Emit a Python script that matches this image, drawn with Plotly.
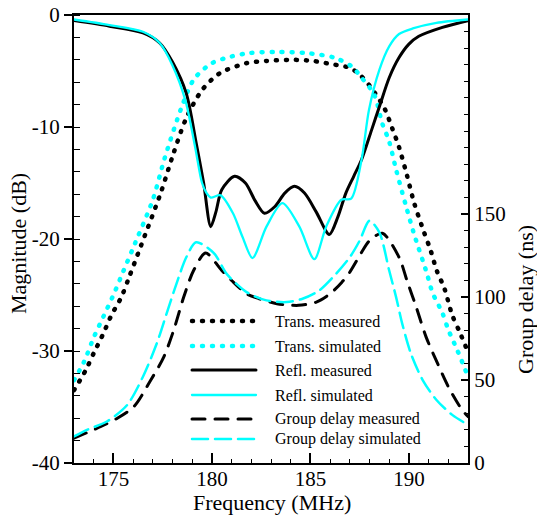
import plotly.graph_objects as go

# ---------------- data ----------------
freq_trans_meas = [173.0, 173.6, 174.0, 174.5, 174.9, 175.4, 175.8, 176.4, 177.4, 178.06, 178.7, 179.5,
                   180.4, 181.76, 182.77, 184.1, 185.1, 186.1, 186.97, 187.43, 188.0, 188.75, 189.15,
                   189.5, 189.9, 190.27, 190.77, 191.1, 191.43, 191.8, 192.2, 192.6, 193.0]
trans_meas = [-33.5, -31.7, -30.2, -28.4, -26.8, -25.2, -23.4, -20.6, -15.9, -12.3, -9.2, -6.7,
              -5.2, -4.3, -4.1, -4.0, -4.1, -4.4, -4.7, -5.2, -6.3, -8.3, -10.1,
              -11.8, -14.3, -16.8, -19.4, -21.0, -22.9, -24.4, -26.8, -28.4, -30.1]

freq_trans_sim = [173.0, 173.5, 174.0, 174.5, 175.0, 175.5, 176.0, 177.0, 177.6, 178.47, 179.1, 180.0,
                  181.0, 181.9, 183.3, 184.8, 186.2, 187.1, 187.6, 188.24, 188.65, 189.0, 189.35,
                  189.86, 190.27, 190.9, 191.2, 191.7, 192.0, 192.45, 192.8, 193.0]
trans_sim = [-32.6, -31.0, -28.8, -26.9, -25.0, -22.9, -20.8, -16.5, -12.8, -8.2, -5.7, -4.3,
             -3.7, -3.4, -3.3, -3.4, -3.8, -4.6, -5.6, -7.1, -9.7, -11.3, -13.8,
             -17.1, -19.6, -23.0, -24.8, -26.6, -28.1, -29.9, -31.4, -32.3]

freq_refl_meas = [173.0, 174.8, 176.5, 177.35, 178.0, 178.7, 179.2, 179.58, 179.94, 180.2, 180.5, 181.15,
                  181.7, 182.2, 182.67, 183.2, 183.7, 184.19, 184.7, 185.3, 185.96, 186.4, 186.8,
                  187.2, 187.6, 188.1, 188.5, 189.0, 189.5, 190.0, 190.5, 191.7, 193.0]
refl_meas = [-0.5, -1.0, -1.6, -2.5, -4.2, -7.0, -11.4, -15.0, -18.9, -17.6, -15.6, -14.4,
             -15.0, -16.6, -17.7, -17.1, -15.9, -15.3, -15.9, -17.6, -19.6, -18.0, -15.9,
             -14.4, -12.9, -10.3, -8.2, -5.6, -3.8, -2.6, -1.9, -1.1, -0.5]

freq_refl_sim = [173.0, 174.8, 176.5, 177.35, 178.0, 178.65, 179.15, 179.5, 179.73, 179.94, 180.44, 181.07,
                 181.55, 182.06, 182.77, 183.58, 184.44, 185.2, 185.8, 186.57, 187.07, 187.6, 187.97,
                 188.5, 189.0, 189.5, 190.2, 191.4, 193.0]
refl_sim = [-0.4, -0.9, -1.5, -2.5, -4.5, -7.6, -11.8, -15.0, -15.9, -16.3, -16.1, -17.7,
            -19.8, -21.7, -18.9, -16.8, -18.9, -21.8, -18.9, -16.5, -16.4, -12.9, -8.5,
            -4.9, -2.8, -1.7, -1.2, -0.7, -0.4]

freq_gd_meas = [173.0, 174.37, 175.2, 176.04, 176.9, 177.56, 178.06, 178.57, 179.07, 179.68, 180.5, 181.0,
                181.76, 182.4, 183.3, 184.4, 185.3, 186.0, 186.6, 187.0, 187.6, 188.0, 188.65, 189.5,
                189.9, 190.37, 190.87, 191.38, 192.0, 192.7, 193.0]
gd_meas = [15, 22, 27, 34, 50, 64, 80, 100, 116, 126.5, 116, 110,
           102, 99, 96, 95, 97, 102, 109, 115, 127, 134, 138.5, 124,
           110, 94, 76, 62, 46, 32, 28]

freq_gd_sim = [173.0, 173.66, 174.67, 175.7, 176.5, 177.2, 177.7, 178.2, 178.7, 179.2, 180.1, 180.75,
               181.76, 182.77, 183.8, 184.6, 185.45, 186.3, 187.0, 187.5, 188.0, 188.5, 189.0, 189.35,
               189.66, 190.1, 190.7, 191.4, 192.2, 193.0]
gd_sim = [16, 20, 25, 35, 52, 72, 90, 108, 124, 133, 126.5, 114,
          103, 98, 97, 99, 104, 114, 124, 134, 146, 139, 116, 100,
          84, 66, 50, 38, 29, 23]

x_ticks = [175, 180, 185, 190]
y_ticks = [-40, -30, -20, -10, 0]
y_ticktext = ["-40", "-30", "-20", "-10", "0"]
y2_ticks = [0, 50, 100, 150]
legend_labels = ["Trans. measured", "Trans. simulated", "Refl. measured",
                 "Refl. simulated", "Group delay measured", "Group delay simulated"]

# ---------------- styles ----------------
BLACK = "#000000"
CYAN = "#00ffff"
FONT = "Liberation Serif, Times New Roman, serif"
styles = [
    dict(color=BLACK, width=4.5, dash="1px,9px"),
    dict(color=CYAN, width=4.5, dash="1px,9px"),
    dict(color=BLACK, width=3, dash="solid"),
    dict(color=CYAN, width=2.3, dash="solid"),
    dict(color=BLACK, width=3, dash="13px,10px"),
    dict(color=CYAN, width=2.5, dash="16px,7px"),
]

series = [
    (freq_trans_meas, trans_meas, "y"),
    (freq_trans_sim, trans_sim, "y"),
    (freq_refl_meas, refl_meas, "y"),
    (freq_refl_sim, refl_sim, "y"),
    (freq_gd_meas, gd_meas, "y2"),
    (freq_gd_sim, gd_sim, "y2"),
]

fig = go.Figure()
for (xs, ys, ax), st, name in zip(series, styles, legend_labels):
    fig.add_trace(go.Scatter(x=xs, y=ys, yaxis=ax, mode="lines", name=name,
                             line=dict(color=st["color"], width=st["width"], dash=st["dash"],
                                       shape="spline", smoothing=0.8),
                             showlegend=False, hoverinfo="skip"))

# ---------------- custom legend (paper coords) ----------------
W, H = 537, 518
L, R, T, B = 74, 69, 15, 55
PW, PH = W - L - R, H - T - B

def px_to_paper_x(px):
    return (px - L) / PW

def px_to_paper_y(py):
    return (H - B - py) / PH

leg_rows = [321, 346, 370, 395, 419, 439]
leg_x0, leg_x1, leg_tx = 192, 256, 273
shapes = []
annotations = []
for row, st, name in zip(leg_rows, styles, legend_labels):
    yy = px_to_paper_y(row)
    shapes.append(dict(type="line", xref="paper", yref="paper",
                       x0=px_to_paper_x(leg_x0), x1=px_to_paper_x(leg_x1), y0=yy, y1=yy,
                       line=dict(color=st["color"], width=st["width"], dash=st["dash"])))
    annotations.append(dict(text=name, xref="paper", yref="paper", x=px_to_paper_x(leg_tx), y=yy,
                            xanchor="left", yanchor="middle", showarrow=False,
                            font=dict(family=FONT, size=16, color="black")))

# axis titles
annotations.append(dict(text="Frequency (MHz)", xref="paper", yref="paper",
                        x=px_to_paper_x(272), y=px_to_paper_y(503), xanchor="center", yanchor="middle",
                        showarrow=False, font=dict(family=FONT, size=22, color="black")))
annotations.append(dict(text="Magnitude (dB)", xref="paper", yref="paper", textangle=-90,
                        x=px_to_paper_x(18), y=px_to_paper_y(243), xanchor="center", yanchor="middle",
                        showarrow=False, font=dict(family=FONT, size=22, color="black")))
annotations.append(dict(text="Group delay (ns)", xref="paper", yref="paper", textangle=-90,
                        x=px_to_paper_x(525), y=px_to_paper_y(300), xanchor="center", yanchor="middle",
                        showarrow=False, font=dict(family=FONT, size=22, color="black")))

tickfont = dict(family=FONT, size=21, color="black")
fig.update_layout(
    width=W, height=H,
    margin=dict(l=L, r=R, t=T, b=B, pad=0, autoexpand=False),
    paper_bgcolor="white", plot_bgcolor="white",
    showlegend=False,
    font=dict(family=FONT, color="black"),
    shapes=shapes, annotations=annotations,
    xaxis=dict(range=[173, 193], tickvals=x_ticks, ticks="inside", ticklen=10, tickwidth=1.5,
               tickcolor="black", showline=True, linewidth=2, linecolor="black", mirror=True,
               showgrid=False, zeroline=False, tickfont=tickfont, ticklabelstandoff=-4,
               automargin=False,
               minor=dict(dtick=1, ticks="inside", ticklen=4, tickwidth=1.2, tickcolor="black",
                          showgrid=False)),
    yaxis=dict(range=[-40, 0], tickvals=y_ticks, ticktext=y_ticktext, ticks="outside", ticklen=8,
               tickwidth=1.5, tickcolor="black", showline=True, linewidth=2, linecolor="black",
               showgrid=False, zeroline=False, tickfont=tickfont, automargin=False,
               minor=dict(dtick=2, ticks="inside", ticklen=6, tickwidth=1.2, tickcolor="black",
                          showgrid=False)),
    yaxis3=dict(range=[-40, 0], overlaying="y", side="left", anchor="x", tickvals=y_ticks,
                ticks="inside", ticklen=10, tickwidth=1.5, tickcolor="black", showticklabels=False,
                showline=False, showgrid=False, zeroline=False, automargin=False),
    yaxis2=dict(range=[0, 270], overlaying="y", side="right", anchor="x", tickvals=y2_ticks,
                ticks="inside", ticklen=7, tickwidth=1.5, tickcolor="black", showline=True,
                linewidth=2, linecolor="black", showgrid=False, zeroline=False, tickfont=tickfont,
                automargin=False,
                minor=dict(dtick=10, ticks="inside", ticklen=4, tickwidth=1.2, tickcolor="black",
                           showgrid=False)),
)

post = ("document.documentElement.style.margin='0';document.body.style.margin='0';"
        "document.body.style.overflow='hidden';"
        "var s=document.createElement('style');"
        "s.textContent='body{margin:0;overflow:hidden}.js-line,.shapelayer path{stroke-linecap:round}';"
        "document.head.appendChild(s);")
fig.write_html("out.html", post_script=post, config={"displayModeBar": False})
